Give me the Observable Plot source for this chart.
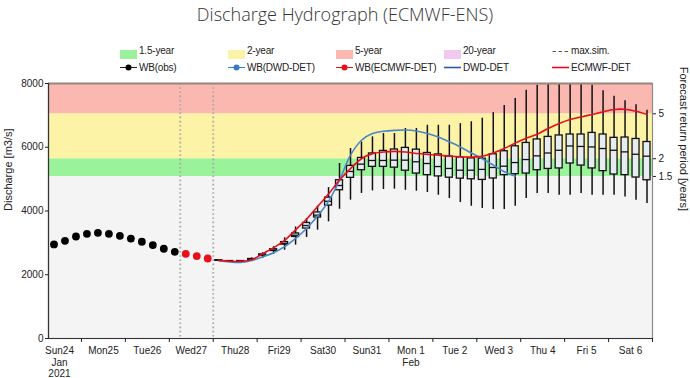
<!DOCTYPE html>
<html><head><meta charset="utf-8">
<script src="https://cdn.jsdelivr.net/npm/d3@7"></script>
<script src="https://cdn.jsdelivr.net/npm/@observablehq/plot@0.6"></script>
<style>
html,body{margin:0;padding:0;background:#fff;}
#wrap{position:relative;width:690px;height:378px;overflow:hidden;font-family:"Liberation Sans",Arial,sans-serif;}
#title{position:absolute;left:0;top:2px;width:690px;text-align:center;font-family:"Open Sans",sans-serif;font-weight:300;font-size:18px;line-height:24px;color:#333;}
.lg{position:absolute;font-size:10px;letter-spacing:-0.2px;line-height:13px;color:#222;white-space:nowrap;}
.sym{position:absolute;}
#chart{position:absolute;left:0;top:75px;}
</style></head><body>
<div id="wrap"><div id="title">Discharge Hydrograph (ECMWF-ENS)</div><div id="legend"></div><div id="chart"></div></div>
<script>
// ---------------- data ----------------
const obsTimes = ["2021-01-24T09","2021-01-24T15","2021-01-24T21","2021-01-25T03","2021-01-25T09","2021-01-25T15","2021-01-25T21","2021-01-26T03","2021-01-26T09","2021-01-26T15","2021-01-26T21","2021-01-27T03"];
const obsDischarge = [2950,3065,3200,3285,3315,3285,3220,3135,3035,2930,2815,2720];

const wbEcmwfTimes = ["2021-01-27T09","2021-01-27T15","2021-01-27T21"];
const wbEcmwfDischarge = [2655,2585,2510];

const forecastTimes = [
 "2021-01-28T03","2021-01-28T09","2021-01-28T15","2021-01-28T21",
 "2021-01-29T03","2021-01-29T09","2021-01-29T15","2021-01-29T21",
 "2021-01-30T03","2021-01-30T09","2021-01-30T15","2021-01-30T21",
 "2021-01-31T03","2021-01-31T09","2021-01-31T15","2021-01-31T21",
 "2021-02-01T03","2021-02-01T09","2021-02-01T15","2021-02-01T21",
 "2021-02-02T03","2021-02-02T09","2021-02-02T15","2021-02-02T21",
 "2021-02-03T03","2021-02-03T09","2021-02-03T15","2021-02-03T21",
 "2021-02-04T03","2021-02-04T09","2021-02-04T15","2021-02-04T21",
 "2021-02-05T03","2021-02-05T09","2021-02-05T15","2021-02-05T21",
 "2021-02-06T03","2021-02-06T09","2021-02-06T15","2021-02-06T21"];

const ecmwfDet = [2450,2425,2420,2470,2660,2850,3080,3410,3740,4140,4530,4970,5330,5640,5800,5850,5870,5850,5805,5775,5750,5720,5700,5690,5720,5820,5960,6130,6280,6410,6590,6745,6870,6950,7030,7110,7185,7190,7130,7030];
const dwdDet = [2440,2400,2385,2450,2560,2690,2880,3140,3450,3840,4300,4970,5750,6220,6430,6500,6530,6540,6510,6430,6320,6170,6010,5820,5640,5440,5230,5090];

const ensMin = [2440,2410,2405,2440,2510,2645,2770,2930,3170,3400,3660,4055,4340,4550,4630,4675,4685,4650,4620,4580,4495,4390,4265,4150,4080,4045,4045,4150,4390,4550,4550,4495,4495,4550,4495,4495,4495,4440,4340,4235];
const ensQ1  = [2448,2420,2415,2465,2590,2745,2945,3185,3450,3795,4170,4650,5040,5280,5385,5385,5360,5265,5175,5125,5085,5045,5015,4995,4975,5020,5125,5155,5175,5280,5320,5335,5490,5425,5335,5250,5145,5125,5050,4965];
const ensMed = [2452,2425,2422,2480,2615,2770,2985,3240,3545,3870,4305,4800,5240,5470,5585,5585,5595,5595,5545,5490,5395,5335,5280,5280,5305,5365,5405,5520,5615,5730,5820,5905,6040,6025,6010,5960,5905,5855,5780,5720];
const ensQ3  = [2456,2430,2430,2495,2640,2800,3025,3295,3625,3955,4420,4965,5415,5665,5805,5885,5930,5980,5925,5820,5775,5710,5680,5650,5640,5780,5875,6030,6135,6245,6325,6370,6400,6400,6450,6400,6295,6305,6260,6165];
const ensMax = [2462,2440,2445,2530,2690,2880,3160,3500,3765,4150,4735,5490,5960,6165,6325,6430,6430,6590,6590,6690,6690,6690,6740,6800,6910,7085,7310,7530,7790,7945,8250,8400,8450,8300,7945,7770,7600,7455,7330,7160];

const bandNames = ["below 1.5-year","1.5-year","2-year","5-year"];
const bandLow  = [0, 5084, 5640, 7050];
const bandHigh = [5084, 5640, 7050, 8000];

const returnPeriodLabels = ["1.5","2","5"];
const returnPeriodDischarge = [5084, 5640, 7050];

const yTickValues = [0,2000,4000,6000,8000];
const dayTickTimes = ["2021-01-25T00","2021-01-26T00","2021-01-27T00","2021-01-28T00","2021-01-29T00","2021-01-30T00","2021-01-31T00","2021-02-01T00","2021-02-02T00","2021-02-03T00","2021-02-04T00","2021-02-05T00","2021-02-06T00","2021-02-07T00"];
const dayLabelTimes = ["2021-01-24T12","2021-01-25T12","2021-01-26T12","2021-01-27T12","2021-01-28T12","2021-01-29T12","2021-01-30T12","2021-01-31T12","2021-02-01T12","2021-02-02T12","2021-02-03T12","2021-02-04T12","2021-02-05T12","2021-02-06T12"];
const dayLabels = ["Sun24\nJan\n2021","Mon25","Tue26","Wed27","Thu28","Fri29","Sat30","Sun31","Mon 1\nFeb","Tue 2","Wed 3","Thu 4","Fri 5","Sat 6"];
const markerTimes = ["2021-01-27T06","2021-01-28T00"];
const xDomainTimes = ["2021-01-24T06","2021-02-07T00"];

// ---------------- styles ----------------
const bandColors = ["#f4f4f4","#9af29a","#fdf3a6","#fbb8b1"];
const C = {ecmwf:"#e3101c", dwd:"#4a86c8", obs:"#000000", wbEcmwf:"#e8101a", box:"#e6edf0"};

// ---------------- build ----------------
const parse = d3.utcParse("%Y-%m-%dT%H");
const obs = obsTimes.map((t,i)=>({t:parse(t), v:obsDischarge[i]}));
const wbE = wbEcmwfTimes.map((t,i)=>({t:parse(t), v:wbEcmwfDischarge[i]}));
const ecmwf = ecmwfDet.map((v,i)=>({t:parse(forecastTimes[i]), v}));
const dwd = dwdDet.map((v,i)=>({t:parse(forecastTimes[i]), v}));
const ens = forecastTimes.map((t,i)=>({t:parse(t), min:ensMin[i], q1:ensQ1[i], med:ensMed[i], q3:ensQ3[i], max:ensMax[i]}));
const bands = bandNames.map((n,i)=>({name:n, lo:bandLow[i], hi:bandHigh[i], color:bandColors[i]}));
const days = dayLabelTimes.map((t,i)=>({t:parse(t), label:dayLabels[i]}));
const rpMap = new Map(returnPeriodDischarge.map((v,i)=>[v, returnPeriodLabels[i]]));
const xDomain = xDomainTimes.map(parse);

const x1 = d => d3.utcHour.offset(d.t, -3);
const x2 = d => d3.utcHour.offset(d.t, 3);

const chart = Plot.plot({
  width: 690, height: 303,
  marginLeft: 48, marginRight: 38, marginTop: 8, marginBottom: 40,
  x: {type: "utc", domain: xDomain},
  y: {domain: [0, 8000]},
  style: {fontFamily: "'Liberation Sans', Arial, sans-serif", fontSize: "10px", color: "#222", background: "transparent", overflow: "visible"},
  marks: [
    Plot.rect(bands, {y1: "lo", y2: "hi", fill: d => d.color}),
    Plot.ruleX(markerTimes.map(parse), {stroke: "#a8a8a8", strokeWidth: 1.8, strokeDasharray: "1.6,2.6"}),
    Plot.ruleX(ens, {x: "t", y1: "min", y2: "max", stroke: "#111", strokeWidth: 1.5, clip: true}),
    Plot.rect(ens, {x1, x2, y1: "q1", y2: "q3", insetLeft: 2, insetRight: 2, fill: C.box, stroke: "#111", strokeWidth: 1.3}),
    Plot.ruleY(ens, {y: "med", x1, x2, insetLeft: 2, insetRight: 2, stroke: "#111", strokeWidth: 1.3}),
    Plot.line(dwd, {x: "t", y: "v", stroke: C.dwd, strokeWidth: 1.6, curve: "catmull-rom"}),
    Plot.line(ecmwf, {x: "t", y: "v", stroke: C.ecmwf, strokeWidth: 1.6, curve: "catmull-rom"}),
    Plot.dot(obs, {x: "t", y: "v", r: 3.9, fill: C.obs}),
    Plot.dot(wbE, {x: "t", y: "v", r: 3.9, fill: C.wbEcmwf}),
    Plot.frame({stroke: "#8a8a8a", strokeWidth: 1.2}),
    Plot.ruleY([8000], {stroke: "#9a8880", strokeWidth: 2}),
    Plot.ruleX([xDomain[0]], {stroke: "#333", strokeWidth: 1.2}),
    Plot.ruleY([0], {stroke: "#333", strokeWidth: 1.2}),
    Plot.axisY(yTickValues, {anchor: "left", tickSize: 3, tickPadding: 2, label: null, tickFormat: d3.format("d")}),
    Plot.axisY(returnPeriodDischarge, {anchor: "right", tickSize: 3, tickPadding: 3, label: null, tickFormat: d => rpMap.get(d)}),
    Plot.axisX(dayTickTimes.map(parse), {tickSize: 4, tickFormat: () => "", label: null}),
    Plot.text(days, {x: "t", text: "label", frameAnchor: "bottom", lineAnchor: "top", dy: 7, lineHeight: 1.17, fontSize: 10}),
    Plot.text(["Discharge [m3/s]"], {frameAnchor: "left", dx: -40, rotate: -90, fontSize: 11}),
    Plot.text(["Forecast return period [years]"], {frameAnchor: "right", dx: 31, rotate: 90, fontSize: 11})
  ]
});
document.getElementById("chart").appendChild(chart);

// ---------------- legend ----------------
const legendRow1 = [
  {kind:"swatch", color:"#9af29a", label:"1.5-year"},
  {kind:"swatch", color:"#fdf3a6", label:"2-year"},
  {kind:"swatch", color:"#fbb8b1", label:"5-year"},
  {kind:"swatch", color:"#f0c8f0", label:"20-year"},
  {kind:"dash", color:"#555", label:"max.sim."}
];
const legendRow2 = [
  {kind:"linedot", line:"#222", dot:"#000", label:"WB(obs)"},
  {kind:"linedot", line:"#3a78c8", dot:"#3a78c8", label:"WB(DWD-DET)"},
  {kind:"linedot", line:"#e3101c", dot:"#e8101a", label:"WB(ECMWF-DET)"},
  {kind:"line", line:"#2a5aa8", label:"DWD-DET"},
  {kind:"line", line:"#e3101c", label:"ECMWF-DET"}
];
const cols = [120, 228, 336, 444, 552];
const lg = document.getElementById("legend");
function addItem(item, col, symTop, textTop) {
  const s = document.createElementNS("http://www.w3.org/2000/svg","svg");
  s.setAttribute("width", 17); s.setAttribute("height", 9);
  s.setAttribute("class","sym");
  s.style.left = col + "px";
  s.style.top = (item.kind === "dash" ? symTop - 3.5 : symTop) + "px";
  let inner = "";
  if (item.kind === "swatch") inner = `<rect x="0" y="0" width="17" height="9" fill="${item.color}"/>`;
  else if (item.kind === "dash") inner = `<line x1="0.5" x2="17" y1="4.5" y2="4.5" stroke="${item.color}" stroke-width="1.1" stroke-dasharray="3.5,2.5"/>`;
  else if (item.kind === "linedot") inner = `<line x1="0" x2="17" y1="4.5" y2="4.5" stroke="${item.line}" stroke-width="1"/><circle cx="8.5" cy="4.5" r="3" fill="${item.dot}"/>`;
  else inner = `<line x1="0" x2="17" y1="4.5" y2="4.5" stroke="${item.line}" stroke-width="1.6"/>`;
  s.innerHTML = inner;
  lg.appendChild(s);
  const t = document.createElement("div");
  t.className = "lg"; t.textContent = item.label;
  t.style.left = (col + 19) + "px"; t.style.top = textTop + "px";
  lg.appendChild(t);
}
legendRow1.forEach((it,i)=>addItem(it, cols[i], 50, 44));
legendRow2.forEach((it,i)=>addItem(it, cols[i], 63, 61));
</script>
</body></html>
